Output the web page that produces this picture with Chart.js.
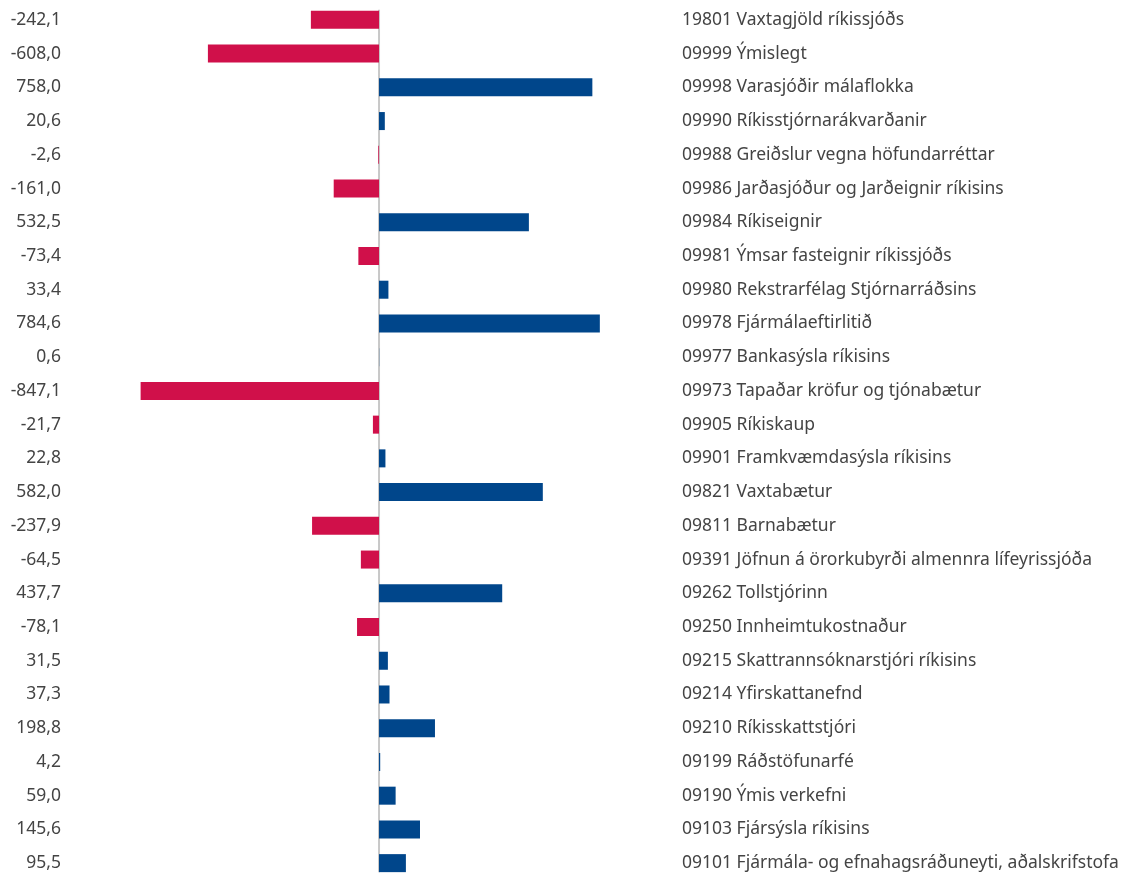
<!DOCTYPE html>
<html>
<head>
<meta charset="utf-8">
<script src="https://cdn.jsdelivr.net/npm/chart.js@4"></script>
<style>
  html, body { margin: 0; padding: 0; background: #fff; overflow: hidden; }
  #wrap { position: relative; width: 1131px; height: 880px; }
</style>
</head>
<body>
<div id="wrap"><canvas id="chart"></canvas></div>
<script>
// fjárlagaliðir, ofan frá og niður
const categories = [
  '19801 Vaxtagjöld ríkissjóðs',
  '09999 Ýmislegt',
  '09998 Varasjóðir málaflokka',
  '09990 Ríkisstjórnarákvarðanir',
  '09988 Greiðslur vegna höfundarréttar',
  '09986 Jarðasjóður og Jarðeignir ríkisins',
  '09984 Ríkiseignir',
  '09981 Ýmsar fasteignir ríkissjóðs',
  '09980 Rekstrarfélag Stjórnarráðsins',
  '09978 Fjármálaeftirlitið',
  '09977 Bankasýsla ríkisins',
  '09973 Tapaðar kröfur og tjónabætur',
  '09905 Ríkiskaup',
  '09901 Framkvæmdasýsla ríkisins',
  '09821 Vaxtabætur',
  '09811 Barnabætur',
  '09391 Jöfnun á örorkubyrði almennra lífeyrissjóða',
  '09262 Tollstjórinn',
  '09250 Innheimtukostnaður',
  '09215 Skattrannsóknarstjóri ríkisins',
  '09214 Yfirskattanefnd',
  '09210 Ríkisskattstjóri',
  '09199 Ráðstöfunarfé',
  '09190 Ýmis verkefni',
  '09103 Fjársýsla ríkisins',
  '09101 Fjármála- og efnahagsráðuneyti, aðalskrifstofa'
];

const values = [
  -242.1, -608.0, 758.0, 20.6, -2.6, -161.0, 532.5, -73.4, 33.4, 784.6,
  0.6, -847.1, -21.7, 22.8, 582.0, -237.9, -64.5, 437.7, -78.1, 31.5,
  37.3, 198.8, 4.2, 59.0, 145.6, 95.5
];

// tölurnar vinstra megin, með kommu
const valueLabels = values.map(v => v.toFixed(1).replace('.', ','));

const RED = '#d0104a';
const BLUE = '#00468b';
const TEXT = '#444444';
const FONT = "'Noto Sans', sans-serif";

// lóðrétt núlllína, frá fyrstu súlu niður í þá síðustu
const zeroLine = {
  id: 'zeroLine',
  beforeDatasetsDraw(chart) {
    const meta = chart.getDatasetMeta(0);
    const first = meta.data[0];
    const last = meta.data[meta.data.length - 1];
    const x = chart.scales.x.getPixelForValue(0);
    const ctx = chart.ctx;
    ctx.save();
    ctx.strokeStyle = '#c8c8c8';
    ctx.lineWidth = 2;
    ctx.beginPath();
    ctx.moveTo(x, first.y - first.height / 2 - 1);
    ctx.lineTo(x, last.y + last.height / 2);
    ctx.stroke();
    ctx.restore();
  }
};

function fixWidth(w) {
  return function(scale) {
    scale.width = w;
    scale.paddingTop = 0;
    scale.paddingBottom = 0;
  };
}

new Chart(document.getElementById('chart'), {
  type: 'bar',
  data: {
    labels: valueLabels,
    datasets: [{
      data: values,
      backgroundColor: values.map(v => v < 0 ? RED : BLUE),
      barPercentage: 0.534,
      categoryPercentage: 1
    }]
  },
  options: {
    indexAxis: 'y',
    responsive: true,
    maintainAspectRatio: false,
    animation: false,
    layout: { padding: { top: 3, bottom: 0, left: 0, right: 0 } },
    plugins: { legend: { display: false }, tooltip: { enabled: false } },
    scales: {
      x: {
        display: false,
        min: -1098,
        max: 1041
      },
      y: {
        position: 'left',
        grid: { display: false, drawTicks: false },
        border: { display: false },
        ticks: { color: TEXT, padding: 9, font: { family: FONT, size: 17.5 } },
        afterFit: fixWidth(70)
      },
      y2: {
        type: 'category',
        labels: categories,
        position: 'right',
        offset: true,
        grid: { display: false, drawTicks: false },
        border: { display: false },
        ticks: { color: TEXT, padding: 10, font: { family: FONT, size: 17.5 } },
        afterFit: fixWidth(459)
      }
    }
  },
  plugins: [zeroLine]
});
</script>
</body>
</html>
